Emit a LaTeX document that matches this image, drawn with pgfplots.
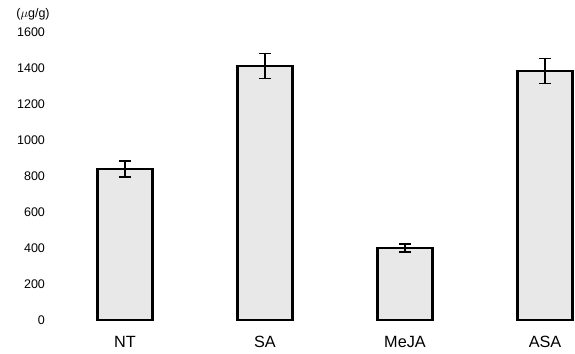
\documentclass[border=0pt]{standalone}
\usepackage{fontspec}
\setmainfont{Liberation Sans}
\usepackage{pgfplots}
\pgfplotsset{compat=1.18}
\usetikzlibrary{calc,patterns}
\begin{document}
\begin{tikzpicture}[x=1pt,y=1pt]
\begin{axis}[
  name=ax,
  scale only axis,
  width=418.4pt, height=230.4pt,
  xmin=-0.521, xmax=3.214,
  ymin=0, ymax=1600,
  axis lines=left,
  axis line style={draw=none},
  tick style={draw=none},
  ytick={0,200,...,1600},
  xtick={0,1,2,3},
  xticklabels={NT,SA,MeJA,ASA},
  xticklabel style={font=\fontsize{13}{15}\selectfont, yshift=-5pt},
  yticklabel style={font=\fontsize{10}{12}\selectfont},
  /pgf/number format/assume math mode=true,
  /pgf/number format/1000 sep={},
  ybar, bar width=44pt,
  clip=false,
]
\addplot[draw=black, line width=1.8pt, fill=black!9,
  error bars/.cd, y dir=both, y explicit,
  error bar style={line width=1.3pt, black},
  error mark options={rotate=90, mark size=4.5pt, line width=1.3pt, black}]
  coordinates {
  (0,839) +- (0,44)
  (1,1411) +- (0,70)
  (2,400) +- (0,22)
  (3,1383) +- (0,70)
  };
\end{axis}
\node[font=\fontsize{10}{12}\selectfont] at ($(ax.north west)+(-15.2pt,14.4pt)$) {($\mu$g/g)};
\path ($(ax.south west)+(-41.6pt,-27.2pt)$) rectangle ($(ax.north east)+(0,25.6pt)$);
\end{tikzpicture}
\end{document}
